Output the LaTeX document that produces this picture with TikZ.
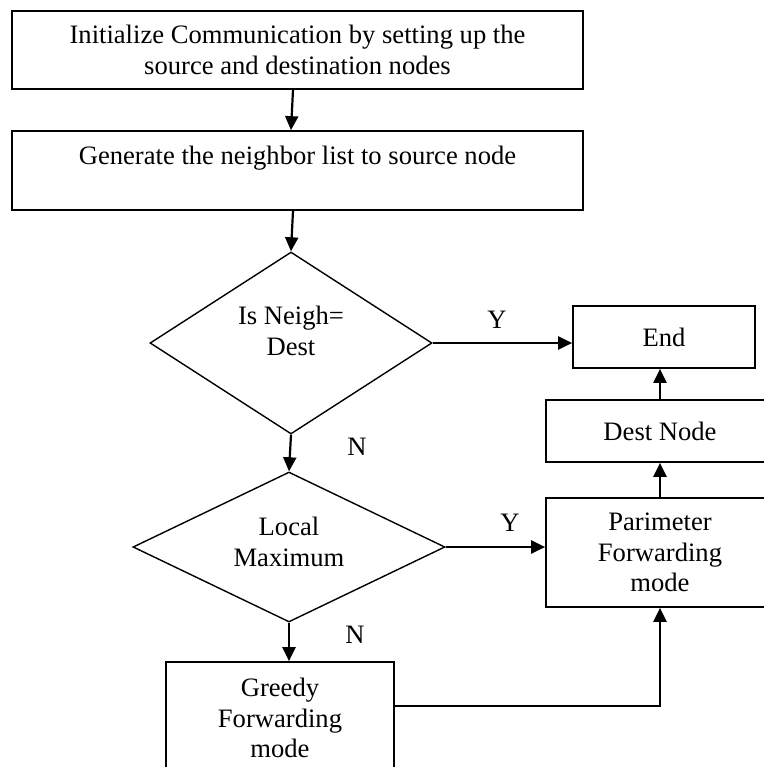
\documentclass[tikz,border=0pt]{standalone}
\usepackage{fontspec}
\setmainfont{Liberation Serif}
\usetikzlibrary{shapes.geometric,arrows.meta,calc}
\begin{document}
\begin{tikzpicture}[x=0.5pt,y=-0.5pt,
  every node/.style={font=\fontsize{13.3}{15.3}\selectfont, align=center, inner sep=0pt},
  box/.style={draw, line width=0.85pt, rectangle},
  dia/.style={draw, line width=0.7pt, diamond, inner sep=0pt, aspect=1},
  txt/.style={},
  conn/.style={line width=1.1pt, -{Triangle[length=7pt,width=6.5pt]}}
]
\useasboundingbox (0,0) rectangle (764,767);
\clip (0,0) rectangle (764,767);
\fill[white] (0,0) rectangle (764,767);

% boxes
\node[box, minimum width=285.5pt, minimum height=39pt] (b1) at (297.5,50)
  {Initialize Communication by setting up the\\source and destination nodes};
\node[box, minimum width=285.5pt, minimum height=39.5pt] (b2) at (297.5,170.5)
  {Generate the neighbor list to source node\\\phantom{G}};
\node[dia, minimum width=141pt, minimum height=91pt] (d1) at (291,343) {};
\node[txt] (d1t) at (291,331) {Is Neigh=\\Dest};
\node[dia, minimum width=156pt, minimum height=75pt] (d2) at (289,547) {};
\node[txt] (d2t) at (289,542) {Local\\Maximum};
\node[box, minimum width=91pt, minimum height=31pt] (end) at (664,337) {End};
\node[box, minimum width=114pt, minimum height=31pt] (dest) at (660,431) {Dest Node};
\node[box, minimum width=114pt, minimum height=54.5pt] (pfm) at (660,552.5)
  {Parimeter\\Forwarding\\mode};
\node[box, minimum width=114pt, minimum height=56pt] (gfm) at (280,718)
  {Greedy\\Forwarding\\mode};

% labels
\node[txt] (y1) at (497,320) {Y};
\node[txt] (y2) at (510,523) {Y};
\node[txt] (n1) at (357,447) {N};
\node[txt] (n2) at (355,635) {N};

% connectors
\draw[conn] ([xshift=-2.25pt]b1.south) -- ([xshift=-3.25pt]b2.north);
\draw[conn] ([xshift=-2.25pt]b2.south) -- (d1.north);
\draw[conn] (d1.east) -- (d1.east -| end.west);
\draw[conn] (d1.south) -- (d2.north);
\draw[conn] (d2.east) -- (d2.east -| pfm.west);
\draw[conn] (d2.south) -- (d2.south |- gfm.north);
\draw[conn] (pfm.north) -- (dest.south);
\draw[conn] (dest.north) -- (dest.north |- end.south);
\draw[conn] ([yshift=6pt]gfm.east) -| (pfm.south);
\end{tikzpicture}
\end{document}
